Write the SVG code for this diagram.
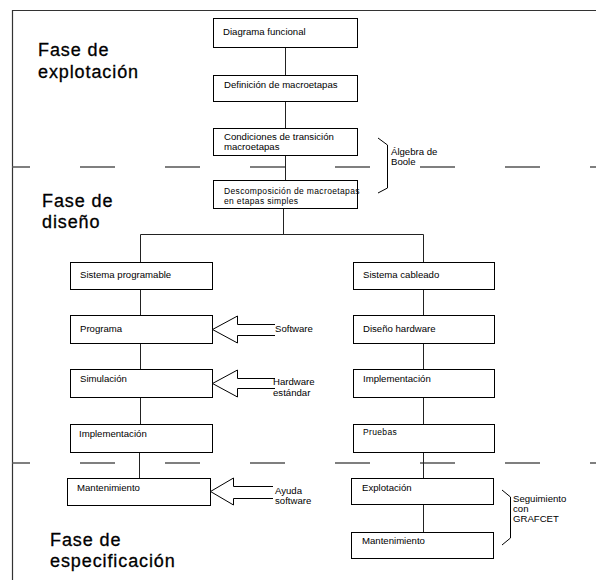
<svg xmlns="http://www.w3.org/2000/svg" width="596" height="580" viewBox="0 0 596 580">
  <style>
    .box { fill: #fff; stroke: #000; stroke-width: 1; }
    .t { font-family: "Liberation Sans", Arial, sans-serif; font-size: 9.6px; fill: #000; }
    .ts { font-family: "Liberation Sans", Arial, sans-serif; font-size: 8.5px; letter-spacing: 0.35px; fill: #000; }
    .phase { font-family: "Liberation Sans", Arial, sans-serif; font-size: 18px; letter-spacing: 0.9px; fill: #000; stroke: #000; stroke-width: 0.3; }
    .conn line, .conn polyline { stroke: #222; stroke-width: 1; fill: none; }
    .frame { stroke: #333; stroke-width: 1.2; fill: none; }
    .dash { stroke: #555; stroke-width: 1.3; stroke-dasharray: 35 50; stroke-dashoffset: 17; fill: none; }
    .arrow { fill: #fff; stroke: #000; stroke-width: 1; }
    .brace { fill: none; stroke: #000; stroke-width: 1; }
  </style>

  <rect width="596" height="580" fill="#fff"/>

  <!-- frame and phase separators -->
  <g id="frame">
    <line class="frame" x1="12.5" y1="10.5" x2="596" y2="10.5"/>
    <line class="frame" x1="12.5" y1="10" x2="12.5" y2="580"/>
    <line class="dash" x1="12" y1="167" x2="596" y2="167"/>
    <line class="dash" x1="12" y1="463" x2="596" y2="463"/>
  </g>

  <!-- phase labels -->
  <g id="phase-explotacion">
    <text class="phase" x="38" y="56">Fase de</text>
    <text class="phase" x="38" y="78">explotación</text>
  </g>
  <g id="phase-diseno">
    <text class="phase" x="42" y="207">Fase de</text>
    <text class="phase" x="42" y="228">diseño</text>
  </g>
  <g id="phase-especificacion">
    <text class="phase" x="50" y="546">Fase de</text>
    <text class="phase" x="50" y="567">especificación</text>
  </g>

  <!-- connectors -->
  <g id="connectors" class="conn">
    <line x1="285.5" y1="47" x2="285.5" y2="75"/>
    <line x1="285.5" y1="101" x2="285.5" y2="128"/>
    <line x1="285.5" y1="155" x2="285.5" y2="180"/>
    <line x1="283.5" y1="208" x2="283.5" y2="234.5"/>
    <polyline points="140.5,262 140.5,234.5 423.5,234.5 423.5,262"/>
    <line x1="140.5" y1="289" x2="140.5" y2="315"/>
    <line x1="140.5" y1="343" x2="140.5" y2="369"/>
    <line x1="140.5" y1="397" x2="140.5" y2="424"/>
    <line x1="139.5" y1="452" x2="139.5" y2="478"/>
    <line x1="423.5" y1="289" x2="423.5" y2="315"/>
    <line x1="423.5" y1="343" x2="423.5" y2="369"/>
    <line x1="423.5" y1="397" x2="423.5" y2="424"/>
    <line x1="423.5" y1="452" x2="423.5" y2="478"/>
    <line x1="423.5" y1="504" x2="423.5" y2="532"/>
  </g>

  <!-- central column -->
  <g id="diagrama-funcional">
    <rect class="box" x="213.5" y="18.5" width="144" height="29"/>
    <text class="t" x="223" y="35">Diagrama funcional</text>
  </g>
  <g id="definicion-macroetapas">
    <rect class="box" x="213.5" y="75.5" width="144" height="26"/>
    <text class="t" x="224" y="88">Definición de macroetapas</text>
  </g>
  <g id="condiciones-transicion">
    <rect class="box" x="213.5" y="128.5" width="144" height="27"/>
    <text class="t" x="224" y="140">Condiciones de transición</text>
    <text class="t" x="224" y="150">macroetapas</text>
  </g>
  <g id="descomposicion">
    <rect class="box" x="213.5" y="180.5" width="144" height="28"/>
    <text class="ts" x="224" y="194">Descomposición de macroetapas</text>
    <text class="ts" x="224" y="204">en etapas simples</text>
  </g>

  <!-- programmable branch -->
  <g id="sistema-programable">
    <rect class="box" x="70.5" y="262.5" width="142" height="27"/>
    <text class="t" x="80" y="278">Sistema programable</text>
  </g>
  <g id="programa">
    <rect class="box" x="70.5" y="315.5" width="142" height="28"/>
    <text class="t" x="80" y="332">Programa</text>
  </g>
  <g id="simulacion">
    <rect class="box" x="70.5" y="369.5" width="142" height="28"/>
    <text class="t" x="80" y="382">Simulación</text>
  </g>
  <g id="implementacion-prog">
    <rect class="box" x="70.5" y="424.5" width="142" height="28"/>
    <text class="t" x="79" y="437">Implementación</text>
  </g>
  <g id="mantenimiento-prog">
    <rect class="box" x="67.5" y="478.5" width="143" height="27"/>
    <text class="t" x="77" y="491">Mantenimiento</text>
  </g>

  <!-- hardwired branch -->
  <g id="sistema-cableado">
    <rect class="box" x="353.5" y="262.5" width="141" height="27"/>
    <text class="t" x="363" y="278">Sistema cableado</text>
  </g>
  <g id="diseno-hardware">
    <rect class="box" x="353.5" y="315.5" width="141" height="28"/>
    <text class="t" x="363" y="332">Diseño hardware</text>
  </g>
  <g id="implementacion-cab">
    <rect class="box" x="353.5" y="369.5" width="141" height="28"/>
    <text class="t" x="363" y="382">Implementación</text>
  </g>
  <g id="pruebas">
    <rect class="box" x="353.5" y="424.5" width="141" height="28"/>
    <text class="ts" x="363" y="435">Pruebas</text>
  </g>
  <g id="explotacion">
    <rect class="box" x="351.5" y="478.5" width="142" height="26"/>
    <text class="t" x="362" y="491">Explotación</text>
  </g>
  <g id="mantenimiento-cab">
    <rect class="box" x="351.5" y="532.5" width="142" height="26"/>
    <text class="t" x="362" y="544">Mantenimiento</text>
  </g>

  <!-- input arrows -->
  <g id="software">
    <path class="arrow" d="M275,324.5 H237.5 V316 L212.5,329.5 L237.5,343 V335.5 H275"/>
    <text class="t" x="275" y="332">Software</text>
  </g>
  <g id="hardware-estandar">
    <path class="arrow" d="M275,378.5 H237.5 V370 L212.5,383.5 L237.5,397 V388.5 H275"/>
    <text class="t" x="273" y="385">Hardware</text>
    <text class="t" x="273" y="396">estándar</text>
  </g>
  <g id="ayuda-software">
    <path class="arrow" d="M273,486.5 H233.5 V478 L210.5,491.5 L233.5,505 V498.5 H273"/>
    <text class="t" x="275" y="494">Ayuda</text>
    <text class="t" x="275" y="504">software</text>
  </g>

  <!-- braces -->
  <g id="algebra-boole">
    <path class="brace" d="M378,138 L387.5,145 V188 L378,193"/>
    <text class="t" x="391" y="155">Álgebra de</text>
    <text class="t" x="391" y="165">Boole</text>
  </g>
  <g id="seguimiento-grafcet">
    <path class="brace" d="M502,490 L510.5,497 V538 L502,545"/>
    <text class="t" x="513" y="502">Seguimiento</text>
    <text class="t" x="513" y="512">con</text>
    <text class="t" x="513" y="522">GRAFCET</text>
  </g>
</svg>
